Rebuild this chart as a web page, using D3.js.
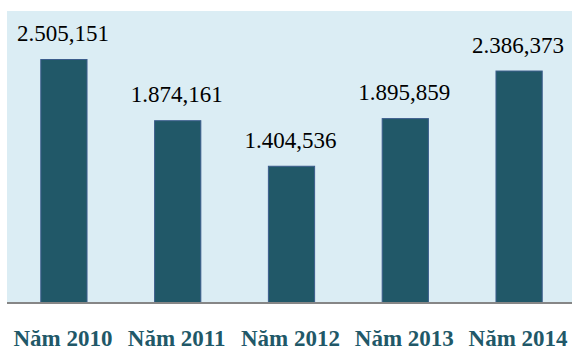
<!DOCTYPE html>
<html><head><meta charset="utf-8">
<script src="https://cdn.jsdelivr.net/npm/d3@7"></script>
<style>html,body{margin:0;padding:0;background:#fff;}svg{display:block;}</style>
</head><body>
<svg id="c" width="572" height="352"></svg>
<script>
const categories = ["Năm 2010","Năm 2011","Năm 2012","Năm 2013","Năm 2014"];
const values = [2505.151, 1874.161, 1404.536, 1895.859, 2386.373];
const valueLabels = ["2.505,151","1.874,161","1.404,536","1.895,859","2.386,373"];

(function(){
const svg = d3.select("#c");
const pLeft = 7, pRight = 576, pTop = 11, pBottom = 302;
const x = d3.scaleBand().domain(categories).range([pLeft, pRight]).paddingInner(0.585).paddingOuter(0.2925);
const y = d3.scaleLinear().domain([0, 3000]).range([pBottom, pTop]);

svg.append("rect").attr("x", pLeft).attr("y", pTop).attr("width", 572 - pLeft).attr("height", pBottom - pTop).attr("fill", "#dbedf4");

svg.selectAll("rect.bar").data(values).join("rect").attr("class","bar")
  .attr("x", (d,i) => x(categories[i]) + 0.5)
  .attr("y", d => y(d) + 0.5)
  .attr("width", x.bandwidth() - 1)
  .attr("height", d => pBottom - y(d))
  .attr("fill", "#215868").attr("stroke", "#3b5d8c").attr("stroke-width", 1);

svg.selectAll("text.val").data(values).join("text").attr("class","val")
  .attr("x", (d,i) => x(categories[i]) + x.bandwidth()/2 - 1)
  .attr("y", d => y(d) - 18)
  .attr("text-anchor","middle")
  .attr("font-family","'Liberation Serif','Times New Roman',serif")
  .attr("font-size", 23).attr("fill","#000")
  .text((d,i) => valueLabels[i]);

svg.append("line").attr("x1", pLeft).attr("x2", 572).attr("y1", pBottom + 1).attr("y2", pBottom + 1)
  .attr("stroke", "#868686").attr("stroke-width", 2);

const xAxis = svg.append("g");
xAxis.selectAll("text").data(categories).join("text")
  .attr("x", d => x(d) + x.bandwidth()/2 - 1)
  .attr("y", 346)
  .attr("text-anchor","middle")
  .attr("font-family","'Liberation Serif','Times New Roman',serif")
  .attr("font-weight","bold")
  .attr("font-size", 23).attr("fill","#215868")
  .text(d => d);
})();
</script>
</body></html>
